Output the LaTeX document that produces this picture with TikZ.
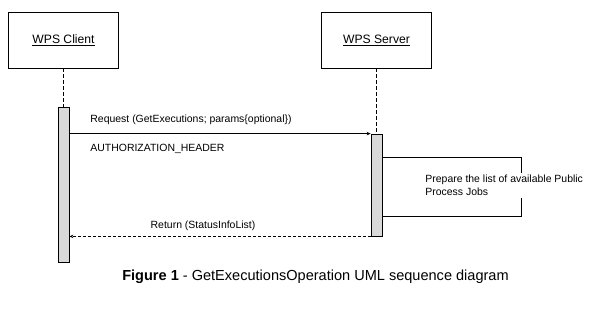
\documentclass[tikz,border=0pt]{standalone}
\usepackage{fontspec}
\setmainfont{Liberation Sans}
\usepackage{tikz}
\usetikzlibrary{arrows.meta,positioning,calc}
\definecolor{barfill}{RGB}{217,217,217}

\begin{document}
\begin{tikzpicture}[x=1bp,y=-1bp,line width=0.8bp,
  actor/.style={draw,minimum width=110bp,minimum height=56bp,font=\fontsize{12.2}{14}\selectfont},
  actbar/.style={draw,fill=barfill,minimum width=11bp,inner sep=0pt},
  lbl/.style={font=\fontsize{10.5}{12.6}\selectfont,inner sep=0pt},
  msg/.style={-{Stealth[length=4bp,width=3.5bp]}}]
  \useasboundingbox (0,0) rectangle (603,314);
  % lifelines
  \node[actor] (client) at (63.5,40) {\underline{WPS Client}};
  \node[actor] (server) at (376.5,40) {\underline{WPS Server}};
  \node[actbar,minimum height=155bp] (cbar) at (63.5,184.5) {};
  \node[actbar,minimum height=102bp] (sbar) at (376.5,185) {};
  \draw[dash pattern=on 4bp off 2bp] (client.south) -- (cbar.north);
  \draw[dash pattern=on 4bp off 2bp] (server.south) -- (sbar.north);
  % messages
  \draw[msg] (cbar.east |- sbar.north) -- (sbar.north west);
  \node[lbl,anchor=west] (req) at (90,120) {Request (GetExecutions; params\{optional\})};
  \node[lbl,anchor=west] (auth) at (90,149) {AUTHORIZATION\_HEADER};
  \coordinate (loopa) at (521,157);
  \coordinate (loopb) at (521,216);
  \draw (sbar.east |- loopa) -- (loopa) -- (loopb) -- (sbar.east |- loopb);
  \node[lbl,anchor=west,align=left,fill=white,inner ysep=2bp] (prep) at (425,185.5)
    {Prepare the list of available Public\\Process Jobs};
  \draw[msg,dash pattern=on 3bp off 2bp] (sbar.south west) -- (cbar.east |- sbar.south);
  \node[lbl] (ret) at (203,226) {Return (StatusInfoList)};
  % caption
  \node[font=\fontsize{14.6}{17}\selectfont] (caption) at (315.5,277)
    {\textbf{Figure 1} - GetExecutionsOperation UML sequence diagram};
\end{tikzpicture}
\end{document}
